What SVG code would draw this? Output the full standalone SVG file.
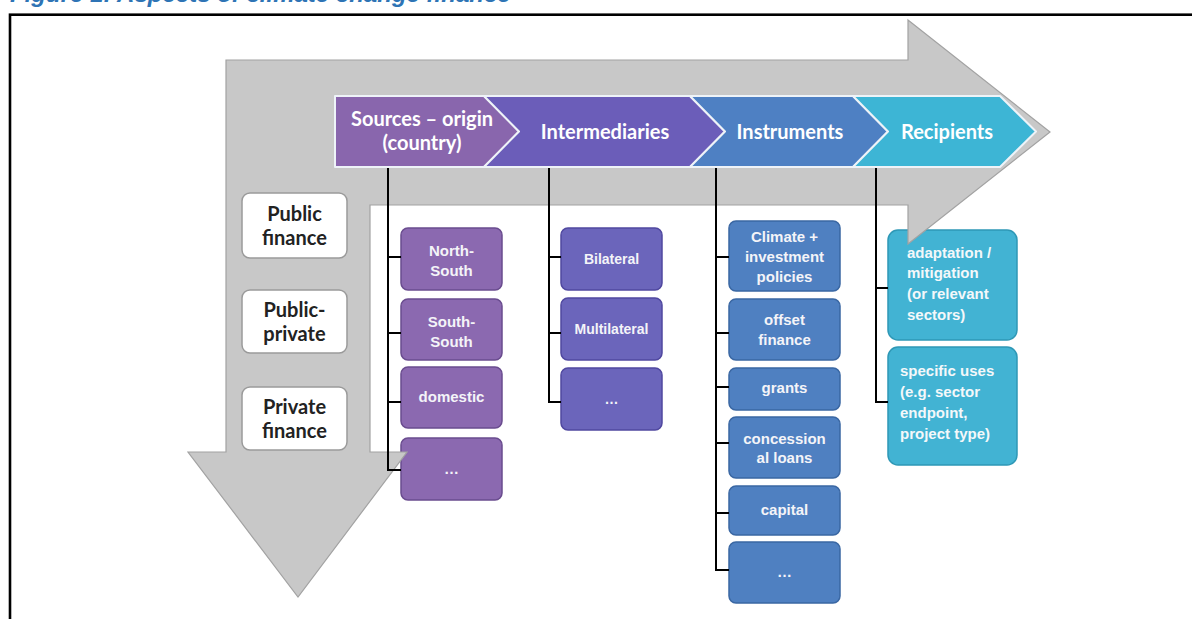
<svg xmlns="http://www.w3.org/2000/svg" width="1192" height="619" viewBox="0 0 1192 619">
<style>
.cap{font-family:"Liberation Sans",Arial,sans-serif;font-weight:700;font-style:italic;font-size:24px;fill:#2e74b5}
.frame{fill:none;stroke:#000;stroke-width:2.6}
.arrow{fill:#c8c8c8;stroke:#a2a2a2;stroke-width:1.2}
.hdr{font-family:Lato,"Liberation Sans",sans-serif;font-weight:700;font-size:20px;fill:#fff;text-anchor:middle}
.chev{stroke:#eef3f8;stroke-width:2;stroke-linejoin:round}
.lbox{fill:#fff;stroke:#9a9a9a;stroke-width:1.5}
.ltxt{font-family:Lato,"Liberation Sans",sans-serif;font-weight:700;font-size:20px;fill:#222;text-anchor:middle}
.btxt{font-family:"Liberation Sans",Arial,sans-serif;font-weight:700;font-size:15px;fill:#f4f4f8;text-anchor:middle}
.itxt{font-family:"Liberation Sans",Arial,sans-serif;font-weight:700;font-size:14px;fill:#f4f4f8;text-anchor:middle}
.rtxt{font-family:"Liberation Sans",Arial,sans-serif;font-weight:700;font-size:15px;fill:#f4f8fa}
.src{fill:#8b69b0;stroke:#6a4c8f;stroke-width:1.5}
.int{fill:#6b65bb;stroke:#5048a0;stroke-width:1.5}
.ins{fill:#4f80c1;stroke:#3a67a3;stroke-width:1.5}
.rec{fill:#42b3d3;stroke:#2e98b6;stroke-width:1.5}
.conn{stroke:#000;stroke-width:2;fill:none}
</style>

<text class="cap" x="10" y="1.5">Figure 1: Aspects of climate change finance</text>
<rect class="frame" x="10" y="14.7" width="1200" height="700"/>

<!-- column boxes -->
<g id="north-south"><rect class="src" x="401" y="228" width="101" height="62" rx="7"/><text class="btxt" x="451.5" y="256">North-</text><text class="btxt" x="451.5" y="276">South</text></g>
<g id="south-south"><rect class="src" x="401" y="299" width="101" height="61" rx="7"/><text class="btxt" x="451.5" y="326.5">South-</text><text class="btxt" x="451.5" y="346.5">South</text></g>
<g id="domestic"><rect class="src" x="401" y="367" width="101" height="61" rx="7"/><text class="btxt" x="451.5" y="402">domestic</text></g>
<g id="src-more"><rect class="src" x="401" y="438" width="101" height="62" rx="7"/><text class="btxt" x="451.5" y="474">…</text></g>

<g id="bilateral"><rect class="int" x="561" y="228" width="101" height="62" rx="7"/><text class="itxt" x="611.5" y="264">Bilateral</text></g>
<g id="multilateral"><rect class="int" x="561" y="298" width="101" height="62" rx="7"/><text class="itxt" x="611.5" y="334">Multilateral</text></g>
<g id="int-more"><rect class="int" x="561" y="368" width="101" height="62" rx="7"/><text class="itxt" x="611.5" y="404">…</text></g>

<g id="climate"><rect class="ins" x="729" y="221" width="111" height="70" rx="7"/><text class="btxt" x="784.5" y="242">Climate +</text><text class="btxt" x="784.5" y="262">investment</text><text class="btxt" x="784.5" y="282">policies</text></g>
<g id="offset"><rect class="ins" x="729" y="299" width="111" height="61" rx="7"/><text class="btxt" x="784.5" y="325">offset</text><text class="btxt" x="784.5" y="345">finance</text></g>
<g id="grants"><rect class="ins" x="729" y="368" width="111" height="42" rx="7"/><text class="btxt" x="784.5" y="393">grants</text></g>
<g id="concessional"><rect class="ins" x="729" y="417" width="111" height="61" rx="7"/><text class="btxt" x="784.5" y="444">concession</text><text class="btxt" x="784.5" y="463">al loans</text></g>
<g id="capital"><rect class="ins" x="729" y="486" width="111" height="49" rx="7"/><text class="btxt" x="784.5" y="515">capital</text></g>
<g id="ins-more"><rect class="ins" x="729" y="542" width="111" height="61" rx="7"/><text class="btxt" x="784.5" y="577">…</text></g>

<g id="adaptation"><rect class="rec" x="888" y="230" width="129" height="110" rx="10"/><text class="rtxt" x="907" y="258">adaptation /</text><text class="rtxt" x="907" y="278">mitigation</text><text class="rtxt" x="907" y="299">(or relevant</text><text class="rtxt" x="907" y="320">sectors)</text></g>
<g id="specific"><rect class="rec" x="888" y="347" width="129" height="118" rx="10"/><text class="rtxt" x="900" y="376">specific uses</text><text class="rtxt" x="900" y="397">(e.g. sector</text><text class="rtxt" x="900" y="418">endpoint,</text><text class="rtxt" x="900" y="439">project type)</text></g>

<!-- big bent grey arrow -->
<g id="flow-arrow"><polygon class="arrow" points="226,60 908,60 908,20 1050,132 908,244 908,205 370,205 370,452 407,452 298,597 188,452 226,452"/></g>

<!-- left boxes -->
<g id="public-finance"><rect class="lbox" x="242" y="193" width="105" height="65" rx="8"/><text class="ltxt" x="294.5" y="220.5">Public</text><text class="ltxt" x="294.5" y="244.5">finance</text></g>
<g id="public-private"><rect class="lbox" x="242" y="290" width="105" height="63" rx="8"/><text class="ltxt" x="294.5" y="316.5">Public-</text><text class="ltxt" x="294.5" y="340.5">private</text></g>
<g id="private-finance"><rect class="lbox" x="242" y="387" width="105" height="63" rx="8"/><text class="ltxt" x="294.5" y="413.5">Private</text><text class="ltxt" x="294.5" y="437.5">finance</text></g>

<!-- header chevrons -->
<g id="h-sources"><polygon class="chev" fill="#8966ad" points="335,96 484,96 519,131.5 484,167 335,167"/><text class="hdr" x="422" y="126">Sources – origin</text><text class="hdr" x="422" y="150">(country)</text></g>
<g id="h-intermediaries"><polygon class="chev" fill="#6b5db9" points="484,96 690,96 725,131.5 690,167 484,167 519,131.5"/><text class="hdr" x="605" y="139">Intermediaries</text></g>
<g id="h-instruments"><polygon class="chev" fill="#4e80c3" points="690,96 853,96 888,131.5 853,167 690,167 725,131.5"/><text class="hdr" x="790" y="139">Instruments</text></g>
<g id="h-recipients"><polygon class="chev" fill="#3db5d5" points="853,96 1000,96 1036,131.5 1000,167 853,167 888,131.5"/><text class="hdr" x="947" y="139">Recipients</text></g>

<g id="connectors">
<path class="conn" d="M388,168 V470 H401 M388,257 H401 M388,333 H401 M388,402 H401"/>
<path class="conn" d="M549,168 V402 H561 M549,257 H561 M549,333 H561"/>
<path class="conn" d="M716,168 V570 H729 M716,257 H729 M716,333 H729 M716,387 H729 M716,443 H729 M716,513 H729"/>
<path class="conn" d="M876,168 V402 H888 M876,288 H888"/>
</g>
</svg>
